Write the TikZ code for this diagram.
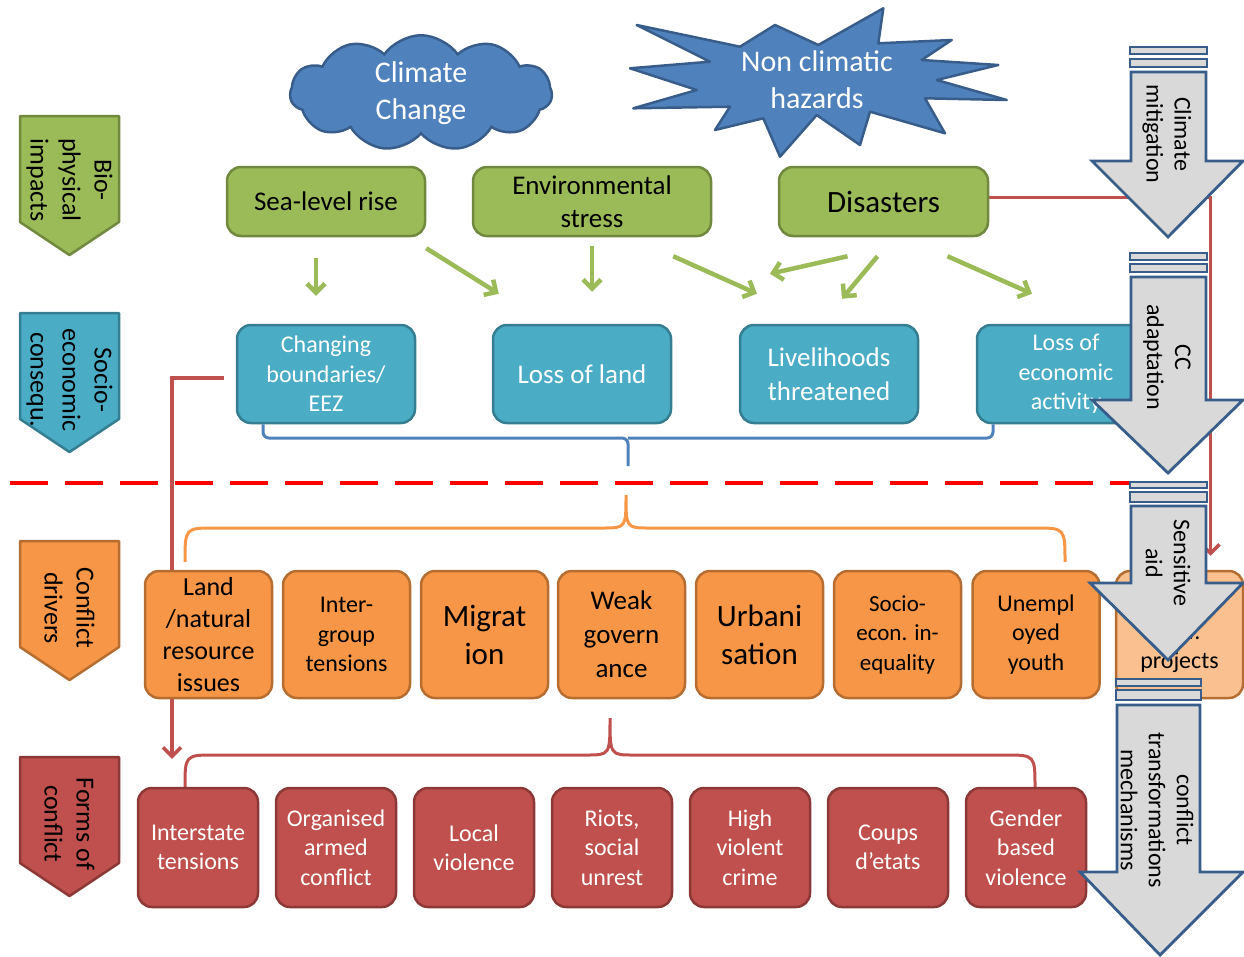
\documentclass[tikz,border=0pt]{standalone}
\usepackage{fontspec}
\setmainfont{Carlito}
\usepackage{tikz}
\definecolor{white}{rgb}{1.0, 1.0, 1.0}
\definecolor{black}{rgb}{0.0, 0.0, 0.0}
\definecolor{skyblue}{RGB}{79,129,189}
\definecolor{navyline}{RGB}{56,93,138}
\definecolor{leafgreen}{RGB}{155,187,89}
\definecolor{olivedark}{RGB}{113,137,63}
\definecolor{tealblue}{RGB}{75,172,198}
\definecolor{tealdark}{RGB}{53,125,145}
\definecolor{tangerine}{RGB}{247,150,70}
\definecolor{rust}{RGB}{182,109,49}
\definecolor{peach}{RGB}{250,192,144}
\definecolor{brick}{RGB}{192,80,77}
\definecolor{brickdark}{RGB}{140,56,54}
\definecolor{lightgray}{RGB}{217,217,217}
\usetikzlibrary{arrows.meta}
\usetikzlibrary{shapes.symbols}
\pgfdeclarelayer{edgelayer}
\pgfdeclarelayer{nodelayer}
\pgfsetlayers{edgelayer,nodelayer,main}
\tikzstyle{box}=[rectangle,rounded corners=14pt,line width=2.5pt,align=center,inner sep=0pt]
\tikzstyle{gbox}=[box,fill=leafgreen,draw=olivedark,minimum height=69pt,font=\fontsize{27}{33}\selectfont]
\tikzstyle{bbox}=[box,fill=tealblue,draw=tealdark,text=white,minimum width=178pt,minimum height=98pt,font=\fontsize{24}{29.5}\selectfont]
\tikzstyle{obox}=[box,fill=tangerine,draw=rust,minimum width=127pt,minimum height=127pt,font=\fontsize{24}{29.5}\selectfont]
\tikzstyle{rbox}=[box,fill=brick,draw=brickdark,text=white,minimum width=120pt,minimum height=119pt,font=\fontsize{24}{29.5}\selectfont]
\tikzstyle{pentagon}=[line width=2.5pt,line join=round]
\tikzstyle{stage}=[rotate=-90,align=center,inner sep=0pt,font=\fontsize{26}{32}\selectfont]
\tikzstyle{cloudy}=[cloud,cloud puffs=11,cloud puff arc=110,aspect=2.3,minimum width=262pt,minimum height=112pt,fill=skyblue,draw=navyline,line width=2.5pt,text=white,align=center,inner sep=0pt,font=\fontsize{30}{37}\selectfont]
\tikzstyle{burst}=[fill=skyblue,draw=navyline,line width=2.5pt,line join=round]
\tikzstyle{bursttext}=[text=white,align=center,inner sep=0pt,font=\fontsize{30}{37}\selectfont]
\tikzstyle{bigarrow}=[fill=lightgray,draw=navyline,line width=2.8pt]
\tikzstyle{arrowtext}=[rotate=-90,align=center,inner sep=0pt,font=\fontsize{24}{28}\selectfont]
\tikzstyle{greenarrow}=[draw=leafgreen,line width=4.5pt,->]
\tikzstyle{redlink}=[draw=brick,line width=3.5pt,->]
\tikzstyle{divider}=[draw=red,line width=4pt,dash pattern=on 38pt off 17pt]

\begin{document}
\begin{tikzpicture}[x=1pt, y=-1pt, >={Straight Barb[length=9pt,width=18pt]}]
        \useasboundingbox (0,0) rectangle (1244,956);
        \begin{pgfonlayer}{nodelayer}
            \node [style = cloudy] (cc) at (421,93) {Climate\\Change};
            \draw [style = burst] (636.7,25) -- (740,46.7) -- (775,25) -- (818.3,45) -- (883.3,8.3) -- (878.3,43.3) -- (951.7,40) -- (921.7,60) -- (998.3,65) -- (936.7,80) -- (1006.7,100) -- (925,98.3) -- (945,133.3) -- (870,111.7) -- (860,145) -- (816.7,115) -- (780,156.7) -- (763.3,118.3) -- (715,130) -- (730,106.7) -- (633.3,108.3) -- (696.7,90) -- (630,68.3) -- (710,61.7) -- cycle;
            \node [style = bursttext] (nch) at (817,80) {Non climatic\\hazards};

            \draw [style = pentagon, fill=leafgreen, draw=olivedark] (20,116) -- (119,116) -- (119,222) -- (69.5,255) -- (20,222) -- cycle;
            \node [style = stage] (bio) at (69.5,180) {Bio-\\physical\\impacts};
            \draw [style = pentagon, fill=tealblue, draw=tealdark] (20,313) -- (119,313) -- (119,419) -- (69.5,452) -- (20,419) -- cycle;
            \node [style = stage] (soc) at (69.5,380) {Socio-\\economic\\consequ.};
            \draw [style = pentagon, fill=tangerine, draw=rust] (20,541) -- (119,541) -- (119,647) -- (69.5,680) -- (20,647) -- cycle;
            \node [style = stage] (drv) at (69.5,608) {Conflict\\drivers};
            \draw [style = pentagon, fill=brick, draw=brickdark] (20,757) -- (119,757) -- (119,863) -- (69.5,896) -- (20,863) -- cycle;
            \node [style = stage] (frm) at (69.5,824) {Forms of\\conflict};

            \node [style = gbox, minimum width=198pt] (slr) at (326,201.5) {Sea-level rise};
            \node [style = gbox, minimum width=238pt] (env) at (592,201.5) {Environmental\\stress};
            \node [style = gbox, minimum width=209pt, font=\fontsize{31}{37}\selectfont] (dis) at (883.5,201.5) {Disasters};

            \node [style = bbox] (chb) at (326,374) {Changing\\boundaries/\\EEZ};
            \node [style = bbox, font=\fontsize{27}{33}\selectfont] (lol) at (582,374) {Loss of land};
            \node [style = bbox, font=\fontsize{27}{34}\selectfont] (liv) at (829,374) {Livelihoods\\threatened};
            \node [style = bbox] (lea) at (1066,374) {Loss of\\economic\\activity};

            \node [style = obox, font=\fontsize{26}{32}\selectfont] (land) at (208.5,634.5) {Land\\/natural\\resource\\issues};
            \node [style = obox] (inter) at (346.5,634.5) {Inter-\\group\\tensions};
            \node [style = obox, font=\fontsize{31}{38}\selectfont] (migr) at (484.5,634.5) {Migrat\\ion};
            \node [style = obox, font=\fontsize{27}{34}\selectfont] (weak) at (621.5,634.5) {Weak\\govern\\ance};
            \node [style = obox, font=\fontsize{31}{38}\selectfont] (urb) at (759.5,634.5) {Urbani\\sation};
            \node [style = obox, font=\fontsize{23}{29.5}\selectfont] (ineq) at (897.5,634.5) {Socio-\\econ. in-\\equality};
            \node [style = obox] (unemp) at (1036,634.5) {Unempl\\oyed\\youth};
            \node [style = obox, fill=peach, label={[yshift=-14pt, align=center, inner sep=0pt, font=\fontsize{24}{29.5}\selectfont]center:Dev.\\projects}] (dev) at (1179.5,634.5) {};

            \node [style = rbox] (ist) at (198,847.5) {Interstate\\tensions};
            \node [style = rbox] (org) at (336,847.5) {Organised\\armed\\conflict};
            \node [style = rbox] (loc) at (474,847.5) {Local\\violence};
            \node [style = rbox] (riot) at (612,847.5) {Riots,\\social\\unrest};
            \node [style = rbox] (crime) at (750,847.5) {High\\violent\\crime};
            \node [style = rbox] (coup) at (888,847.5) {Coups\\d’etats};
            \node [style = rbox] (gbv) at (1026,847.5) {Gender\\based\\violence};
        \end{pgfonlayer}

        \begin{pgfonlayer}{edgelayer}
            \draw [style = greenarrow] ([xshift=-10pt, yshift=-21pt]slr.south) to ([xshift=-10pt, yshift=28pt]chb.north);
            \draw [style = greenarrow] ([yshift=-11pt]slr.south east) to ([xshift=7pt, yshift=30pt]lol.north west);
            \draw [style = greenarrow] ([yshift=-9pt]env.south) to ([xshift=10pt, yshift=32pt]lol.north);
            \draw [style = greenarrow] ([xshift=-39pt, yshift=-19pt]env.south east) to ([xshift=-72pt, yshift=30pt]liv.north);
            \draw [style = greenarrow] ([xshift=-36pt, yshift=-19pt]dis.south) to ([xshift=-59pt, yshift=50pt]liv.north);
            \draw [style = greenarrow] ([xshift=-6pt, yshift=-19pt]dis.south) to ([xshift=13pt, yshift=25pt]liv.north);
            \draw [style = greenarrow] ([xshift=64pt, yshift=-19pt]dis.south) to ([xshift=-34pt, yshift=30pt]lea.north);

            \coordinate (bmid) at (628,438);
            \draw [skyblue, line width=3pt, rounded corners=6pt] ([xshift=-63pt]chb.south) |- (bmid) -- ++(0,28);
            \draw [skyblue, line width=3pt, rounded corners=6pt] ([xshift=-73pt]lea.south) |- (bmid);

            \draw [tangerine, line width=3pt] (185,562) .. controls (185,528) .. (215,528) -- (602,528) .. controls (626,528) .. (626,495) .. controls (626,528) .. (650,528) -- (1035,528) .. controls (1065,528) .. (1065,562);
            \draw [brick, line width=3pt] (185,788) .. controls (185,755) .. (215,755) -- (586,755) .. controls (610,755) .. (610,718) .. controls (610,755) .. (634,755) -- (1005,755) .. controls (1035,755) .. (1035,788);

            \draw [style = redlink, shorten >=14pt] ([yshift=4pt]dis.east) -| ([xshift=31pt]dev.north);
            \draw [style = redlink, shorten <=12pt, shorten >=28pt] ([yshift=-4pt]chb.west) -| ([xshift=-26pt]ist.north);

            \draw [style = divider] (10,483) -- (1205,483);
        \end{pgfonlayer}

        \draw [style = bigarrow] (1130,47) rectangle (1207,54);
        \draw [style = bigarrow] (1130,59) rectangle (1207,67);
        \draw [style = bigarrow] (1131,72) -- (1206,72) -- (1206,161) -- (1243,161) -- (1168,237) -- (1092,161) -- (1131,161) -- cycle;
        \node [style = arrowtext] (mit) at (1167,134) {Climate\\mitigation};

        \draw [style = bigarrow] (1130,253) rectangle (1207,260);
        \draw [style = bigarrow] (1130,264) rectangle (1207,272);
        \draw [style = bigarrow] (1131,277) -- (1206,277) -- (1206,400) -- (1243,400) -- (1168,473) -- (1092,400) -- (1131,400) -- cycle;
        \node [style = arrowtext] (adp) at (1167,357) {CC\\adaptation};

        \draw [style = bigarrow] (1130,482) rectangle (1207,488);
        \draw [style = bigarrow] (1130,492) rectangle (1207,502);
        \draw [style = bigarrow] (1131,506) -- (1206,506) -- (1206,583) -- (1243,583) -- (1168,660) -- (1090,583) -- (1131,583) -- cycle;
        \node [style = arrowtext] (aid) at (1168,563) {Sensitive\\aid};

        \draw [style = bigarrow] (1116,679) rectangle (1201,686);
        \draw [style = bigarrow] (1116,690) rectangle (1201,700);
        \draw [style = bigarrow] (1117,705) -- (1200,705) -- (1200,872) -- (1243,872) -- (1160,955) -- (1080,872) -- (1117,872) -- cycle;
        \node [style = arrowtext] (ctm) at (1157,810) {conflict\\transformations\\mechanisms};
    \end{tikzpicture}
\end{document}
